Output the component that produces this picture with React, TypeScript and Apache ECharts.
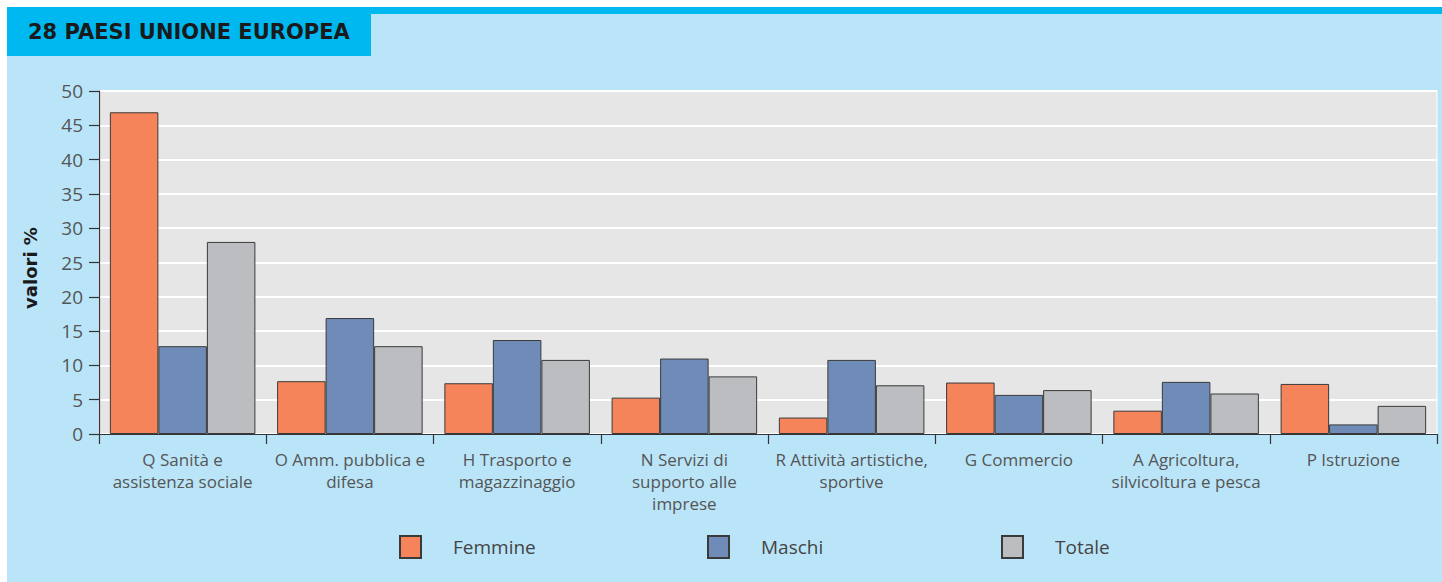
import React, { useEffect, useRef } from "react";
import * as echarts from "echarts";

const categories = [
  "Q Sanità e\nassistenza sociale",
  "O Amm. pubblica e\ndifesa",
  "H Trasporto e\nmagazzinaggio",
  "N Servizi di\nsupporto alle\nimprese",
  "R Attività artistiche,\nsportive",
  "G Commercio",
  "A Agricoltura,\nsilvicoltura e pesca",
  "P Istruzione",
];
const femmine = [46.9, 7.7, 7.4, 5.3, 2.4, 7.5, 3.4, 7.3];
const maschi = [12.8, 16.9, 13.7, 11.0, 10.8, 5.7, 7.6, 1.4];
const totale = [28.0, 12.8, 10.8, 8.4, 7.1, 6.4, 5.9, 4.1];
const seriesNames = ["Femmine", "Maschi", "Totale"];
const title = "28 PAESI UNIONE EUROPEA";
const yAxisTitle = "valori %";

const COLORS = ["#f5845a", "#6f8cb8", "#bcbdc0"];
const FONT = "'Open Sans', Lato, sans-serif";
const BOLD_FONT = "'DejaVu Sans', sans-serif";

export default function App() {
  const ref = useRef<HTMLDivElement>(null);
  useEffect(() => {
    if (!ref.current) return;
    const chart = echarts.init(ref.current, null, { renderer: "svg" });
    const legendLefts = [394, 702, 996];
    chart.setOption({
      animation: false,
      backgroundColor: "#ffffff",
      textStyle: { fontFamily: FONT },
      graphic: [
        { type: "rect", shape: { x: 7, y: 7, width: 1435, height: 575 }, style: { fill: "#bae5f9" }, z: -10 },
        { type: "rect", shape: { x: 7, y: 7, width: 1435, height: 7 }, style: { fill: "#00b8f0" }, z: -9 },
        { type: "rect", shape: { x: 7, y: 7, width: 364, height: 49 }, style: { fill: "#00b8f0" }, z: -9 },
        {
          type: "text",
          x: 28,
          y: 32,
          style: {
            text: title,
            fill: "#1a1a1a",
            font: "bold 21px " + BOLD_FONT,
            verticalAlign: "middle",
          },
        },
        {
          type: "text",
          x: 30,
          y: 268,
          rotation: Math.PI / 2,
          style: {
            text: yAxisTitle,
            fill: "#1a1a1a",
            font: "bold 18px " + BOLD_FONT,
            align: "center",
            verticalAlign: "middle",
          },
        },
      ],
      grid: {
        left: 99,
        right: 5,
        top: 91,
        bottom: 148,
        show: true,
        backgroundColor: "#e6e6e6",
        borderColor: "#ffffff",
        borderWidth: 1,
      },
      legend: seriesNames.map((n, i) => ({
        data: [n],
        left: legendLefts[i],
        top: 530,
        itemWidth: 21,
        itemHeight: 22,
        icon: "rect",
        textStyle: { fontSize: 19, color: "#444", padding: [0, 0, 0, 27], fontFamily: FONT },
      })),
      xAxis: {
        type: "category",
        data: categories,
        axisLine: { show: true, lineStyle: { color: "#333", width: 1.2 } },
        axisTick: { show: true, length: 10, lineStyle: { color: "#333", width: 1.2 } },
        axisLabel: {
          fontSize: 17,
          lineHeight: 22,
          color: "#555",
          margin: 14,
          interval: 0,
          fontFamily: FONT,
        },
      },
      yAxis: {
        type: "value",
        min: 0,
        max: 50,
        interval: 5,
        axisLine: { show: true, lineStyle: { color: "#333", width: 1.2 } },
        axisTick: { show: true, length: 10, lineStyle: { color: "#333", width: 1.2 } },
        axisLabel: { fontSize: 19, color: "#555", margin: 16, fontFamily: FONT },
        splitLine: { show: true, lineStyle: { color: "#ffffff", width: 2 } },
      },
      series: [femmine, maschi, totale].map((d, i) => ({
        name: seriesNames[i],
        type: "bar",
        data: d,
        barGap: "0%",
        barCategoryGap: "13%",
        itemStyle: { color: COLORS[i], borderColor: "#3a3a3a", borderWidth: 1 },
      })),
    });
    return () => chart.dispose();
  }, []);
  return (
    <div
      ref={ref}
      style={{ position: "absolute", left: 0, top: 0, width: 1442, height: 582 }}
    />
  );
}
